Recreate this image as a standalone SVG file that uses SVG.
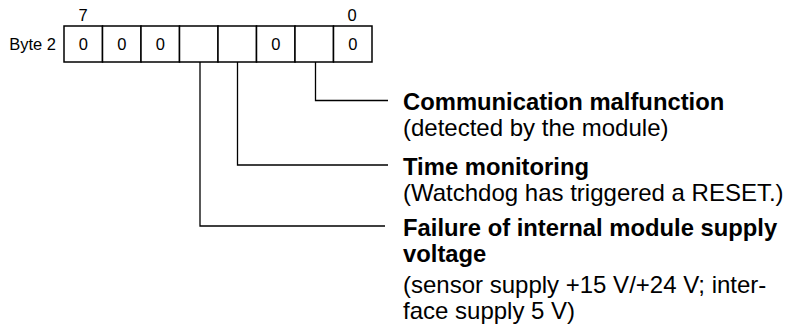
<svg xmlns="http://www.w3.org/2000/svg" width="790" height="332" viewBox="0 0 790 332">
<style>
.cell{fill:#fff;stroke:#000;stroke-width:1.5}
.sm{font-family:"Liberation Sans",Arial,sans-serif;font-size:16.5px;fill:#000}
.c{text-anchor:middle}
.t{font-family:"Liberation Sans",Arial,sans-serif;font-size:24px;fill:#000}
.b{font-weight:bold;font-size:23.8px}
.ln{fill:none;stroke:#000;stroke-width:1.3}
</style>
<rect width="790" height="332" fill="#fff"/>
<g id="byte">
<text class="sm" x="56" y="50" text-anchor="end">Byte 2</text>
<text class="sm c" x="83" y="21">7</text>
<text class="sm c" x="352" y="21">0</text>
<rect class="cell" x="64" y="26" width="38.5" height="36"/>
<rect class="cell" x="102.5" y="26" width="38.5" height="36"/>
<rect class="cell" x="141" y="26" width="38.5" height="36"/>
<rect class="cell" x="179.5" y="26" width="38.5" height="36"/>
<rect class="cell" x="218" y="26" width="38.5" height="36"/>
<rect class="cell" x="256.5" y="26" width="38.5" height="36"/>
<rect class="cell" x="295" y="26" width="38.5" height="36"/>
<rect class="cell" x="333.5" y="26" width="38.5" height="36"/>
<text class="sm c" x="83.3" y="50">0</text>
<text class="sm c" x="121.8" y="50">0</text>
<text class="sm c" x="160.3" y="50">0</text>
<text class="sm c" x="275.8" y="50">0</text>
<text class="sm c" x="352.8" y="50">0</text>
</g>
<g id="connectors">
<path class="ln" d="M315.5 62 V100.5 H388"/>
<path class="ln" d="M237.5 62 V165 H388"/>
<path class="ln" d="M200 62 V226 H385"/>
</g>
<g id="comm">
<text class="t b" x="403" y="110">Communication malfunction</text>
<text class="t" x="403" y="136">(detected by the module)</text>
</g>
<g id="time">
<text class="t b" x="403" y="175">Time monitoring</text>
<text class="t" x="403" y="201">(Watchdog has triggered a RESET.)</text>
</g>
<g id="supply">
<text class="t b" x="403" y="236">Failure of internal module supply</text>
<text class="t b" x="403" y="262">voltage</text>
<text class="t" x="403" y="293">(sensor supply +15 V/+24 V; inter-</text>
<text class="t" x="403" y="319">face supply 5 V)</text>
</g>
</svg>
